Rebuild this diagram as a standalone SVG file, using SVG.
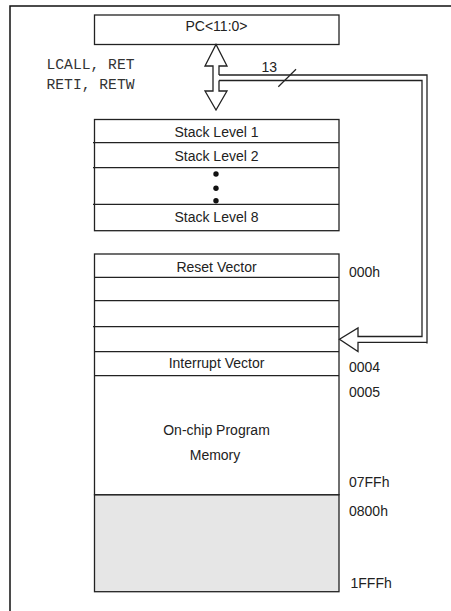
<svg xmlns="http://www.w3.org/2000/svg" width="451" height="611" viewBox="0 0 451 611">
<style>
.box{fill:#fff;stroke:#222;stroke-width:1.3}
.sep{stroke:#222;stroke-width:1.3}
.t{font-family:"Liberation Sans",Arial,sans-serif;font-size:14px;fill:#222}
.c{text-anchor:middle}
.m{font-family:"Liberation Mono","Courier New",monospace;font-size:15px;fill:#333}
.dl{fill:none;stroke:#222;stroke-width:1.3}
</style>
<rect width="451" height="611" fill="#fff"/>
<g id="frame"><path d="M10,611 V6 H451" fill="none" stroke="#111" stroke-width="1.5"/></g>

<g id="pc">
<rect class="box" x="94.5" y="15" width="244.5" height="29.5"/>
<text class="t c" x="216.5" y="31">PC&lt;11:0&gt;</text>
</g>

<g id="ops">
<text class="m" x="46.5" y="68.5" textLength="88" lengthAdjust="spacingAndGlyphs">LCALL, RET</text>
<text class="m" x="46.5" y="88.5" textLength="88" lengthAdjust="spacingAndGlyphs">RETI, RETW</text>
</g>

<g id="stack">
<rect class="box" x="94.5" y="119.5" width="244.5" height="111.2"/>
<line class="sep" x1="93" y1="142.7" x2="339" y2="142.7"/>
<line class="sep" x1="93" y1="167.7" x2="339" y2="167.7"/>
<line class="sep" x1="93" y1="204.3" x2="339" y2="204.3"/>
<text class="t c" x="216.5" y="137">Stack Level 1</text>
<text class="t c" x="216.5" y="160.5">Stack Level 2</text>
<circle cx="216" cy="174" r="2.7" fill="#111"/>
<circle cx="216" cy="188.3" r="2.7" fill="#111"/>
<circle cx="216" cy="200.7" r="2.7" fill="#111"/>
<text class="t c" x="216.5" y="222">Stack Level 8</text>
</g>

<g id="memory">
<rect x="94.5" y="494.7" width="244.5" height="97" fill="#e6e6e6" stroke="#222" stroke-width="1.3"/>
<rect class="box" x="94.5" y="254" width="244.5" height="240.7"/>
<line class="sep" x1="94.5" y1="277.3" x2="339" y2="277.3"/>
<line class="sep" x1="94.5" y1="300.7" x2="339" y2="300.7"/>
<line class="sep" x1="93" y1="326.7" x2="339" y2="326.7"/>
<line class="sep" x1="94.5" y1="351.7" x2="339" y2="351.7"/>
<line class="sep" x1="94.5" y1="375.7" x2="339" y2="375.7"/>
<text class="t c" x="216.5" y="271.5">Reset Vector</text>
<text class="t c" x="216.5" y="368">Interrupt Vector</text>
<text class="t c" x="216.5" y="434.5">On-chip Program</text>
<text class="t c" x="215" y="460">Memory</text>
</g>

<g id="addresses">
<text class="t" x="349" y="277">000h</text>
<text class="t" x="349" y="371.5">0004</text>
<text class="t" x="349" y="396.5">0005</text>
<text class="t" x="349" y="487.3">07FFh</text>
<text class="t" x="349" y="516">0800h</text>
<text class="t" x="350.5" y="588.3">1FFFh</text>
</g>

<g id="connectors">
<path d="M216,44.5 L227,66 L219,66 L219,91 L227,91 L216,110 L205,91 L213,91 L213,66 L205,66 Z" fill="#fff" stroke="none"/>
<path d="M219,75 V66 H227 L216,44.5 L205,66 H213 V91 H205 L216,110 L227,91 H219 V80.5" fill="none" stroke="#222" stroke-width="1.3" stroke-linejoin="miter"/>
<path class="dl" d="M219,75 H427 V343.5"/>
<path class="dl" d="M427,342.3 H358 V351.5 L339.5,339.3 L358,328 V336.5 H422 V80.5 H219"/>
<line x1="278.3" y1="86.7" x2="296" y2="69.3" stroke="#222" stroke-width="1.2"/>
<text class="t" x="261.5" y="72">13</text>
</g>
</svg>
